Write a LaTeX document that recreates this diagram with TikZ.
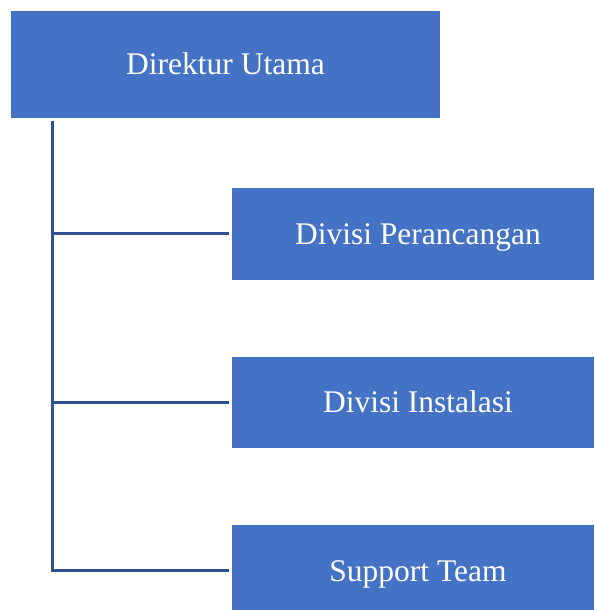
\documentclass[tikz,border=0pt]{standalone}
\usepackage{fontspec}
\setmainfont{Liberation Serif}
\definecolor{boxblue}{HTML}{4472C4}
\definecolor{lineblue}{HTML}{2F528F}
\begin{document}
\begin{tikzpicture}[x=1pt,y=1pt,
  orgbox/.style={fill=boxblue, draw=none, text=white, inner sep=0pt, text height=21pt, text depth=0pt, font=\fontsize{31.5}{34}\selectfont},
  link/.style={draw=lineblue, line width=3pt}]
\useasboundingbox (0,0) rectangle (594,610);
\node[orgbox, minimum width=429, minimum height=107] (top) at (225.5,545.5) {Direktur Utama};
\node[orgbox, minimum width=362, minimum height=92] (d1) at (413,376) {\hspace*{10pt}Divisi Perancangan};
\node[orgbox, minimum width=362, minimum height=91] (d2) at (413,207.5) {\hspace*{10pt}Divisi Instalasi};
\node[orgbox, minimum width=362, minimum height=92] (d3) at (413,39) {\hspace*{10pt}Support Team};
\coordinate (start) at (52,489);
\coordinate (corner) at (52,39);
\draw[link] (start) -- (corner) -- ([xshift=-3]d3.west);
\draw[link] (52,376) -- ([xshift=-3]d1.west);
\draw[link] (52,207.5) -- ([xshift=-3]d2.west);
\end{tikzpicture}
\end{document}
